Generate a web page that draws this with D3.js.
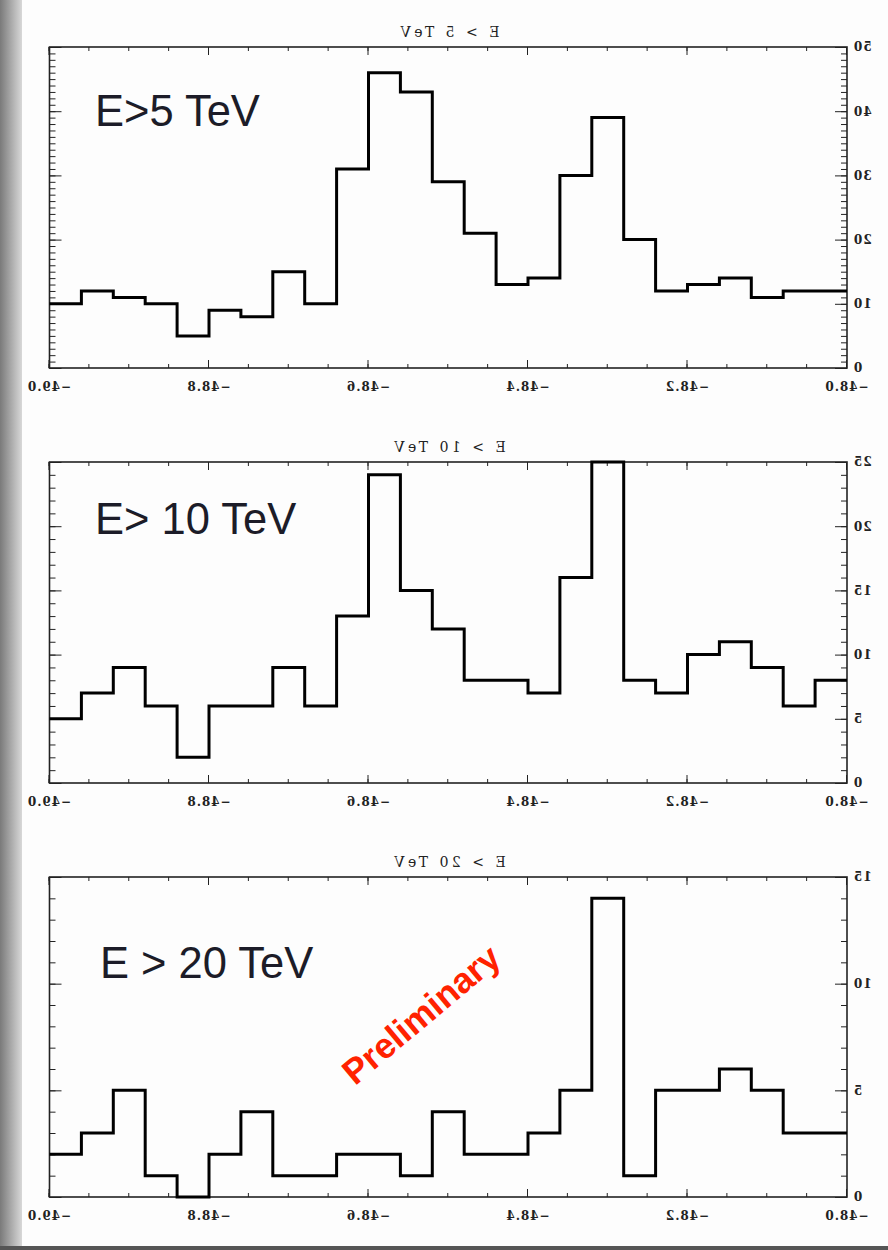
<!DOCTYPE html>
<html><head><meta charset="utf-8">
<script src="https://cdn.jsdelivr.net/npm/d3@7"></script>
<style>body{margin:0;background:#fff;} svg{display:block;}</style>
</head><body>
<script>
// Data (bins listed left-to-right as displayed)
const binStart = -49.0;
const binWidth = 0.04;
const countsE5  = [10,12,11,10,5,9,8,15,10,31,46,43,29,21,13,14,30,39,20,12,13,14,11,12,12];
const countsE10 = [5,7,9,6,2,6,6,9,6,13,24,15,12,8,8,7,16,25,8,7,10,11,9,6,8];
const countsE20 = [2,3,5,1,0,2,4,1,1,2,2,1,4,2,2,3,5,14,1,5,5,6,5,3,3];
const xTickValues = [-48.0,-48.2,-48.4,-48.6,-48.8,-49.0];
const panelTitles = ["E > 5 TeV","E > 10 TeV","E > 20 TeV"];
const panelNotes  = ["E>5 TeV","E> 10 TeV","E > 20 TeV"];
const yMaxes = [50,25,15];
const yMajorSteps = [10,5,5];

const W = 888, H = 1250;
const svg = d3.select("body").append("svg").attr("width",W).attr("height",H);

// slide background
const defs = svg.append("defs");
const grad = defs.append("linearGradient").attr("id","lg").attr("x1","0").attr("x2","1");
grad.append("stop").attr("offset","0").attr("stop-color","#7a7a7a");
grad.append("stop").attr("offset","1").attr("stop-color","#d8d8d8");
svg.append("rect").attr("x",0).attr("y",0).attr("width",W).attr("height",H).attr("fill","#fdfdfd");
svg.append("rect").attr("x",0).attr("y",0).attr("width",22).attr("height",H).attr("fill","url(#lg)");
svg.append("rect").attr("x",0).attr("y",H-4).attr("width",W).attr("height",4).attr("fill","#555");

// mirrored chart group
const g = svg.append("g").attr("transform",`translate(${W},0) scale(-1,1)`);
const L = 41, R = 838.5; // in un-mirrored coordinates
const x = d3.scaleLinear().domain([-48.0,-49.0]).range([L,R]);
const minorX = d3.range(0,21).map(i => +(-48.0 - i*0.05).toFixed(2));

const panels = [
  {data:countsE5, top:47, bottom:368},
  {data:countsE10, top:462, bottom:783},
  {data:countsE20, top:877, bottom:1197}
];
const tickFont = "'DejaVu Serif', serif";

panels.forEach((p,k) => {
  const y = d3.scaleLinear().domain([0,yMaxes[k]]).range([p.bottom,p.top]);
  const pg = g.append("g");
  // frame
  pg.append("rect").attr("x",L).attr("y",p.top).attr("width",R-L).attr("height",p.bottom-p.top)
    .attr("fill","none").attr("stroke","#222").attr("stroke-width",1.6);

  const majorY = d3.range(0,yMaxes[k]+1,yMajorSteps[k]);
  const minorY = d3.range(0,yMaxes[k]+1,1);

  // left (labelled) y axis, inward ticks
  pg.append("g").attr("transform",`translate(${L},0)`)
    .call(d3.axisLeft(y).tickValues(majorY).tickSize(-12).tickPadding(6).tickFormat(d3.format("d")));
  pg.append("g").attr("transform",`translate(${L},0)`)
    .call(d3.axisLeft(y).tickValues(minorY).tickSize(-6).tickFormat(""));
  // right y axis
  pg.append("g").attr("transform",`translate(${R},0)`)
    .call(d3.axisRight(y).tickValues(majorY).tickSize(-12).tickFormat(""));
  pg.append("g").attr("transform",`translate(${R},0)`)
    .call(d3.axisRight(y).tickValues(minorY).tickSize(-6).tickFormat(""));
  // bottom x axis
  pg.append("g").attr("transform",`translate(0,${p.bottom})`)
    .call(d3.axisBottom(x).tickValues(xTickValues).tickSize(-8).tickPadding(14).tickFormat(d3.format(".1f")));
  pg.append("g").attr("transform",`translate(0,${p.bottom})`)
    .call(d3.axisBottom(x).tickValues(minorX).tickSize(-4).tickFormat(""));
  // top x axis
  pg.append("g").attr("transform",`translate(0,${p.top})`)
    .call(d3.axisTop(x).tickValues(xTickValues).tickSize(-8).tickFormat(""));
  pg.append("g").attr("transform",`translate(0,${p.top})`)
    .call(d3.axisTop(x).tickValues(minorX).tickSize(-4).tickFormat(""));

  pg.selectAll(".domain").remove();
  pg.selectAll(".tick line").attr("stroke","#222").attr("stroke-width",1);
  pg.selectAll(".tick text").attr("font-family",tickFont).attr("font-size",12)
    .attr("font-weight","bold").attr("fill","#222").attr("letter-spacing",1);

  // title
  pg.append("text").attr("x",(L+R)/2).attr("y",p.top-10).attr("text-anchor","middle")
    .attr("font-family",tickFont).attr("font-size",14).attr("letter-spacing",3.5)
    .attr("fill","#222").text(panelTitles[k]);

  // histogram
  const pts = [];
  p.data.forEach((v,i) => {
    const x0 = binStart + i*binWidth, x1 = binStart + (i+1)*binWidth;
    pts.push([x0,v]); pts.push([x1,v]);
  });
  pg.append("path").datum(pts)
    .attr("d", d3.line().x(d => x(d[0])).y(d => y(d[1])))
    .attr("fill","none").attr("stroke","#000").attr("stroke-width",3).attr("stroke-linejoin","miter");
});

// annotations (not mirrored)
const notePos = [[95,126],[95,534],[100,978]];
panelNotes.forEach((t,k) => {
  svg.append("text").attr("x",notePos[k][0]).attr("y",notePos[k][1])
    .attr("font-family","'Liberation Sans', Arial, sans-serif").attr("font-size",43.5)
    .attr("fill","#1c1c28").text(t);
});
svg.append("text").attr("transform","translate(429,1024) rotate(-40)")
  .attr("text-anchor","middle").attr("font-family","'Liberation Sans', Arial, sans-serif")
  .attr("font-weight","bold").attr("font-size",35.5).attr("fill","#ff2200").text("Preliminary");
</script>
</body></html>
